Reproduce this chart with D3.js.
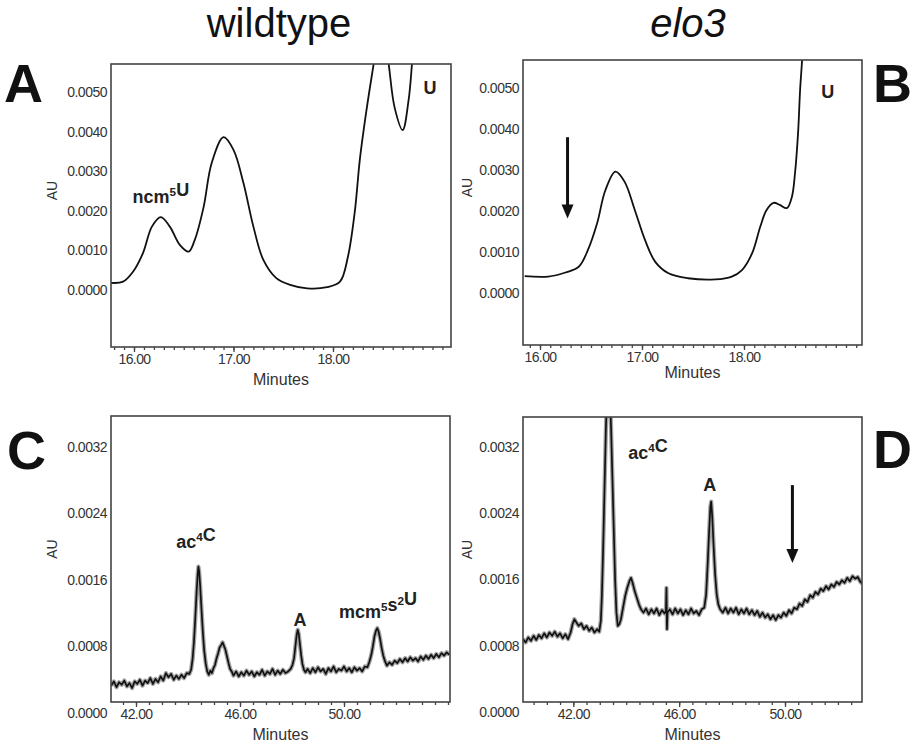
<!DOCTYPE html>
<html><head><meta charset="utf-8">
<script src="https://cdn.jsdelivr.net/npm/d3@7"></script>
<style>
body{margin:0;background:#fff}
svg{display:block;font-family:"Liberation Sans",Arial,sans-serif}
</style></head><body>
<svg id="chart" width="913" height="746"></svg>
<script>
/* DATA (time in minutes, absorbance in mAU; tick labels show AU) */
const titles = ["wildtype", "elo3"];

const auTicksAB = [0, 1, 2, 3, 4, 5];
const auLabelsAB = ["0.0000", "0.0010", "0.0020", "0.0030", "0.0040", "0.0050"];
const auTicksCD = [0, 0.8, 1.6, 2.4, 3.2];
const auLabelsCD = ["0.0000", "0.0008", "0.0016", "0.0024", "0.0032"];
const minTicksAB = [16, 17, 18];
const minLabelsAB = ["16.00", "17.00", "18.00"];
const minTicksCD = [42, 46, 50];
const minLabelsCD = ["42.00", "46.00", "50.00"];

// wildtype, early window
const traceA = [
  [15.77,0.18],[15.89,0.21],[15.99,0.46],[16.09,0.93],[16.18,1.60],[16.27,1.84],
  [16.36,1.60],[16.46,1.14],[16.55,0.97],[16.61,1.26],[16.70,2.10],[16.78,3.20],
  [16.90,3.86],[17.00,3.54],[17.10,2.70],[17.20,1.60],[17.30,0.76],[17.43,0.30],
  [17.57,0.13],[17.74,0.04],[17.94,0.07],[18.07,0.21],[18.15,0.84],[18.22,2.00],
  [18.27,3.30],[18.34,4.60],[18.42,5.90],[18.47,6.80],[18.51,6.60],[18.56,5.70],
  [18.62,4.60],[18.70,4.04],[18.76,4.80],[18.80,5.90],[18.84,7.00]
];
// elo3, early window
const traceB = [
  [15.85,0.41],[16.08,0.40],[16.25,0.50],[16.38,0.64],[16.47,1.05],[16.56,1.70],
  [16.64,2.50],[16.74,2.96],[16.83,2.71],[16.93,2.02],[17.03,1.29],[17.13,0.76],
  [17.26,0.48],[17.45,0.36],[17.72,0.33],[17.88,0.40],[17.98,0.56],[18.08,0.97],
  [18.16,1.62],[18.22,2.02],[18.29,2.20],[18.35,2.15],[18.42,2.07],[18.47,2.35],
  [18.50,2.92],[18.53,3.90],[18.55,4.95],[18.57,5.70],[18.60,7.00]
];
// wildtype, late window
const traceC = [
  [41.05,0.33],[41.15,0.38],[41.25,0.31],[41.35,0.37],[41.45,0.34],[41.55,0.39],
  [41.65,0.32],[41.75,0.36],[41.85,0.30],[41.95,0.38],[42.05,0.35],[42.15,0.40],
  [42.25,0.33],[42.35,0.39],[42.45,0.36],[42.55,0.42],[42.65,0.35],[42.75,0.41],
  [42.85,0.37],[42.95,0.44],[43.05,0.39],[43.15,0.48],[43.25,0.43],[43.35,0.47],
  [43.45,0.40],[43.55,0.45],[43.65,0.41],[43.75,0.46],[43.85,0.42],[43.95,0.48],
  [44.05,0.47],[44.12,0.52],[44.18,0.66],[44.23,0.86],[44.28,1.14],[44.33,1.45],
  [44.37,1.66],[44.40,1.76],[44.43,1.70],[44.47,1.52],[44.52,1.24],[44.57,0.98],
  [44.62,0.76],[44.68,0.60],[44.74,0.50],[44.80,0.46],[44.86,0.51],[44.92,0.48],
  [44.98,0.54],[45.04,0.58],[45.10,0.66],[45.16,0.72],[45.22,0.79],[45.28,0.82],
  [45.33,0.85],[45.38,0.81],[45.44,0.76],[45.50,0.68],[45.56,0.60],[45.62,0.53],
  [45.68,0.50],[45.75,0.45],[45.85,0.50],[45.95,0.44],[46.05,0.49],[46.15,0.45],
  [46.25,0.51],[46.35,0.46],[46.45,0.50],[46.55,0.44],[46.65,0.49],[46.75,0.46],
  [46.85,0.52],[46.95,0.45],[47.05,0.50],[47.15,0.47],[47.25,0.53],[47.35,0.46],
  [47.45,0.51],[47.55,0.47],[47.65,0.52],[47.75,0.48],[47.85,0.50],[47.95,0.53],
  [48.02,0.58],[48.08,0.66],[48.13,0.80],[48.18,0.94],[48.22,1.00],[48.26,0.95],
  [48.30,0.84],[48.35,0.70],[48.40,0.59],[48.46,0.52],[48.52,0.49],[48.60,0.53],
  [48.70,0.48],[48.80,0.54],[48.90,0.49],[49.00,0.55],[49.10,0.50],[49.20,0.53],
  [49.30,0.47],[49.40,0.54],[49.50,0.50],[49.60,0.56],[49.70,0.49],[49.80,0.53],
  [49.90,0.51],[50.00,0.56],[50.10,0.50],[50.20,0.54],[50.30,0.49],[50.40,0.55],
  [50.50,0.51],[50.60,0.54],[50.70,0.50],[50.80,0.56],[50.90,0.55],[50.98,0.62],
  [51.05,0.70],[51.11,0.80],[51.17,0.92],[51.23,0.99],[51.28,1.02],[51.33,0.98],
  [51.39,0.89],[51.45,0.78],[51.51,0.69],[51.58,0.62],[51.65,0.57],[51.75,0.61],
  [51.85,0.58],[51.95,0.63],[52.05,0.60],[52.15,0.65],[52.25,0.61],[52.35,0.66],
  [52.45,0.62],[52.55,0.67],[52.65,0.63],[52.75,0.66],[52.85,0.62],[52.95,0.68],
  [53.05,0.64],[53.15,0.69],[53.25,0.65],[53.35,0.70],[53.45,0.66],[53.55,0.71],
  [53.65,0.67],[53.75,0.72],[53.85,0.69],[53.95,0.73],[54.05,0.70]
];
// elo3, late window
const traceD = [
  [40.10,0.88],[40.20,0.84],[40.30,0.90],[40.40,0.86],[40.50,0.92],[40.60,0.87],
  [40.70,0.93],[40.80,0.89],[40.90,0.95],[41.00,0.90],[41.10,0.96],[41.20,0.92],
  [41.30,0.97],[41.40,0.91],[41.50,0.95],[41.60,0.89],[41.70,0.94],[41.80,0.88],
  [41.90,0.96],[41.97,1.06],[42.04,1.12],[42.12,1.08],[42.20,1.04],[42.30,1.07],
  [42.40,1.00],[42.50,1.04],[42.60,0.98],[42.70,1.02],[42.80,0.96],[42.90,1.00],
  [42.98,0.97],[43.04,1.10],[43.08,1.40],[43.13,2.00],[43.18,2.70],[43.23,3.40],
  [43.28,3.90],[43.33,4.10],[43.38,3.90],[43.43,3.40],[43.48,2.80],[43.53,2.20],
  [43.58,1.60],[43.63,1.20],[43.68,1.04],[43.74,1.06],[43.80,1.12],[43.88,1.26],
  [43.96,1.40],[44.04,1.50],[44.12,1.58],[44.18,1.62],[44.24,1.56],[44.32,1.46],
  [44.40,1.38],[44.48,1.30],[44.56,1.24],[44.65,1.20],[44.75,1.25],[44.85,1.18],
  [44.95,1.24],[45.05,1.19],[45.15,1.25],[45.25,1.17],[45.35,1.23],[45.45,1.19],
  [45.50,1.22],[45.52,1.50],[45.54,1.00],[45.56,1.20],[45.65,1.24],[45.75,1.18],
  [45.85,1.25],[45.95,1.19],[46.05,1.24],[46.15,1.17],[46.25,1.23],[46.35,1.18],
  [46.45,1.25],[46.55,1.19],[46.65,1.22],[46.75,1.17],[46.85,1.24],[46.95,1.26],
  [47.02,1.42],[47.08,1.80],[47.13,2.16],[47.18,2.48],[47.21,2.54],[47.25,2.36],
  [47.30,2.02],[47.36,1.66],[47.42,1.42],[47.48,1.30],[47.55,1.24],[47.65,1.20],
  [47.75,1.26],[47.85,1.19],[47.95,1.25],[48.05,1.20],[48.15,1.26],[48.25,1.18],
  [48.35,1.24],[48.45,1.19],[48.55,1.25],[48.65,1.18],[48.75,1.23],[48.85,1.17],
  [48.95,1.22],[49.05,1.15],[49.15,1.20],[49.25,1.14],[49.35,1.18],[49.45,1.12],
  [49.55,1.17],[49.65,1.11],[49.75,1.17],[49.85,1.14],[49.95,1.20],[50.05,1.16],
  [50.15,1.23],[50.25,1.19],[50.35,1.26],[50.45,1.24],[50.55,1.31],[50.65,1.28],
  [50.75,1.36],[50.85,1.33],[50.95,1.41],[51.05,1.38],[51.15,1.45],[51.25,1.42],
  [51.35,1.49],[51.45,1.46],[51.55,1.52],[51.65,1.48],[51.75,1.54],[51.85,1.51],
  [51.95,1.57],[52.05,1.54],[52.15,1.59],[52.25,1.56],[52.35,1.62],[52.45,1.58],
  [52.55,1.64],[52.65,1.61],[52.75,1.63],[52.85,1.57],[52.92,1.55]
];

// peak names ("^" makes next char superscript), placed at [min, mAU]
const peaksA = [{name: "ncm^5U", t: 16.27, v: 2.20}, {name: "U", t: 18.975, v: 4.95}];
const peaksB = [{name: "U", t: 18.82, v: 4.76}];
const peaksC = [{name: "ac^4C", t: 44.31, v: 1.99}, {name: "A", t: 48.31, v: 1.05},
                {name: "mcm^5s^2U", t: 51.31, v: 1.14}];
const peaksD = [{name: "ac^4C", t: 44.82, v: 3.06}, {name: "A", t: 47.16, v: 2.67}];
// missing-peak arrows [min, from mAU, to mAU]
const arrowsB = [[16.27, 3.80, 1.82]];
const arrowsD = [[50.28, 2.74, 1.80]];

/* LAYOUT */
const svg = d3.select("#chart");

const panels = [
  {letter: "A", data: traceA, peaks: peaksA, arrows: [], noisy: false,
   box: [111, 64, 451, 347], xRef: [[16, 134], [18, 333]], yRef: [[0, 290], [5, 92]],
   yT: auTicksAB, yL: auLabelsAB, xT: minTicksAB, xL: minLabelsAB, minor: 0.1,
   letterXY: [4, 102], auX: 52, minY: 385},
  {letter: "B", data: traceB, peaks: peaksB, arrows: arrowsB, noisy: false,
   box: [523, 60, 862, 345], xRef: [[16, 540], [18, 744]], yRef: [[0, 293], [5, 88]],
   yT: auTicksAB, yL: auLabelsAB, xT: minTicksAB, xL: minLabelsAB, minor: 0.1,
   letterXY: [873, 102], auX: 467, minY: 378},
  {letter: "C", data: traceC, peaks: peaksC, arrows: [], noisy: true,
   box: [111, 416, 450, 702], xRef: [[42, 136], [50, 344]], yRef: [[0, 713], [3.2, 447]],
   yT: auTicksCD, yL: auLabelsCD, xT: minTicksCD, xL: minLabelsCD, minor: 0.5,
   letterXY: [7, 469], auX: 52, minY: 740},
  {letter: "D", data: traceD, peaks: peaksD, arrows: arrowsD, noisy: true,
   box: [523, 417, 862, 702], xRef: [[42, 573.3], [50, 785]], yRef: [[0, 712], [3.2, 447]],
   yT: auTicksCD, yL: auLabelsCD, xT: minTicksCD, xL: minLabelsCD, minor: 0.5,
   letterXY: [873, 468], auX: 467, minY: 740}
];

// column titles
svg.append("text").attr("x", 279).attr("y", 37).attr("text-anchor", "middle")
  .attr("font-size", 40).attr("fill", "#111").text(titles[0]);
svg.append("text").attr("x", 688).attr("y", 37).attr("text-anchor", "middle")
  .attr("font-size", 40).attr("font-style", "italic").attr("fill", "#111").text(titles[1]);

function addLabel(g, str, x, y, size) {
  const t = g.append("text").attr("x", x).attr("y", y).attr("text-anchor", "middle")
    .attr("font-size", size).attr("font-weight", "bold").attr("fill", "#222");
  let sup = false;
  for (const ch of str) {
    if (ch === "^") { sup = true; continue; }
    if (sup) {
      t.append("tspan").attr("font-size", size * 0.65).attr("dy", -size * 0.38).text(ch);
      t.append("tspan").attr("font-size", size).attr("dy", size * 0.38).text("");
      sup = false;
    } else {
      t.append("tspan").text(ch);
    }
  }
}

panels.forEach((p, i) => {
  const [L, T, R, B] = p.box;
  const x = d3.scaleLinear().domain([p.xRef[0][0], p.xRef[1][0]]).range([p.xRef[0][1], p.xRef[1][1]]);
  x.domain([x.invert(L), x.invert(R)]).range([L, R]);
  const y = d3.scaleLinear().domain([p.yRef[0][0], p.yRef[1][0]]).range([p.yRef[0][1], p.yRef[1][1]]);
  y.domain([y.invert(B), y.invert(T)]).range([B, T]);

  const g = svg.append("g");
  g.append("clipPath").attr("id", "clip" + i)
    .append("rect").attr("x", L).attr("y", T).attr("width", R - L).attr("height", B - T);

  // y axis labels (no marks)
  const yAxis = g.append("g").attr("transform", `translate(${L},0)`)
    .call(d3.axisLeft(y).tickValues(p.yT).tickSize(0).tickPadding(4)
      .tickFormat((d, k) => p.yL[k]));
  yAxis.select(".domain").remove();
  yAxis.selectAll("text").attr("font-size", 14).attr("letter-spacing", -0.5)
    .attr("fill", "#333").attr("font-family", null);

  // x axis: minor ticks then labelled ticks
  const [d0, d1] = x.domain();
  const minorVals = d3.range(Math.ceil(d0 / p.minor) * p.minor, d1, p.minor);
  const xm = g.append("g").attr("transform", `translate(0,${B})`)
    .call(d3.axisBottom(x).tickValues(minorVals).tickSize(3).tickFormat(""));
  xm.select(".domain").remove();
  const xa = g.append("g").attr("transform", `translate(0,${B})`)
    .call(d3.axisBottom(x).tickValues(p.xT).tickSize(5).tickPadding(2)
      .tickFormat((d, k) => p.xL[k]));
  xa.select(".domain").remove();
  xa.selectAll("text").attr("font-size", 14).attr("letter-spacing", -0.6)
    .attr("fill", "#333").attr("font-family", null);
  g.selectAll(".tick line").attr("stroke", "#444").attr("stroke-width", 1.3);

  // axis titles
  g.append("text").attr("x", (L + R) / 2).attr("y", p.minY).attr("text-anchor", "middle")
    .attr("font-size", 16).attr("fill", "#333").text("Minutes");
  g.append("text").attr("transform", `translate(${p.auX + 5},${(T + B) / 2 + (i < 2 ? -15 : -10)}) rotate(-90)`)
    .attr("text-anchor", "middle").attr("font-size", 14).attr("fill", "#333").text("AU");

  // trace
  const line = d3.line().x(d => x(d[0])).y(d => y(d[1]))
    .curve(p.noisy ? d3.curveLinear : d3.curveCatmullRom.alpha(0.5));
  const plot = g.append("g").attr("clip-path", `url(#clip${i})`);
  if (p.noisy) {
    plot.append("path").datum(p.data).attr("d", line).attr("fill", "none")
      .attr("stroke", "#555").attr("stroke-width", 4.2).attr("stroke-opacity", 0.55)
      .attr("stroke-linejoin", "round");
  }
  plot.append("path").datum(p.data).attr("d", line).attr("fill", "none")
    .attr("stroke", "#111").attr("stroke-width", p.noisy ? 1.7 : 1.8)
    .attr("stroke-linejoin", "round");

  // frame
  g.append("rect").attr("x", L).attr("y", T).attr("width", R - L).attr("height", B - T)
    .attr("fill", "none").attr("stroke", "#444").attr("stroke-width", 1.6);

  // peak names
  p.peaks.forEach(pk => addLabel(g, pk.name, x(pk.t), y(pk.v), 18));

  // arrows
  p.arrows.forEach(a => {
    const ax = x(a[0]), y0 = y(a[1]), y1 = y(a[2]);
    g.append("line").attr("x1", ax).attr("x2", ax).attr("y1", y0).attr("y2", y1 - 10)
      .attr("stroke", "#111").attr("stroke-width", 3);
    g.append("path").attr("d", `M${ax - 6},${y1 - 14}L${ax + 6},${y1 - 14}L${ax},${y1}Z`)
      .attr("fill", "#111");
  });

  // panel letter
  svg.append("text").attr("x", p.letterXY[0]).attr("y", p.letterXY[1])
    .attr("font-size", 54).attr("font-weight", "bold").attr("fill", "#111").text(p.letter);
});
</script>
</body></html>
